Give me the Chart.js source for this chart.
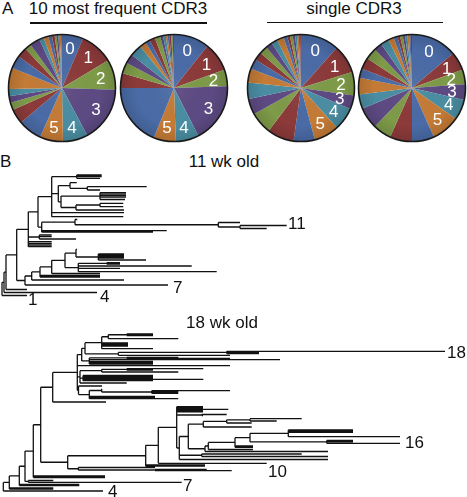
<!DOCTYPE html>
<html>
<head>
<meta charset="utf-8">
<script src="https://cdn.jsdelivr.net/npm/chart.js@4"></script>
<style>
  body { margin: 0; background: #fff; }
  #page { position: relative; width: 467px; height: 497px; overflow: hidden; font-family: "Liberation Sans", Arial, sans-serif; color: #111; }
  #page canvas, #page .t, #page .rule { position: absolute; }
  .t { font-size: 17px; line-height: 17px; white-space: nowrap; }
  .c { text-align: center; }
  .rule { height: 1.5px; background: #111; }
</style>
</head>
<body>
<div id="page">
  <div class="t" style="left:2px;top:0px">A</div>
  <div class="t c" style="left:18px;top:0px;width:200px">10 most frequent CDR3</div>
  <div class="t c" style="left:254px;top:0px;width:200px">single CDR3</div>
  <div class="rule" style="left:30px;top:22px;width:177px"></div>
  <div class="rule" style="left:267px;top:21.5px;width:176px"></div>

  <canvas id="pie1" width="112" height="112" style="left:6px;top:31.5px"></canvas>
  <canvas id="pie2" width="112" height="112" style="left:118px;top:31.5px"></canvas>
  <canvas id="pie3" width="112" height="112" style="left:245px;top:31.5px"></canvas>
  <canvas id="pie4" width="112" height="112" style="left:355.5px;top:31.5px"></canvas>

  <div class="t" style="left:0px;top:152.5px">B</div>
  <div class="t c" style="left:174px;top:153px;width:100px">11 wk old</div>
  <canvas id="tree11" width="467" height="145" style="left:0;top:160px"></canvas>
  <div class="t" style="left:288px;top:215px">11</div>
  <div class="t" style="left:28px;top:291px">1</div>
  <div class="t" style="left:100px;top:287.5px">4</div>
  <div class="t" style="left:173px;top:279px">7</div>

  <div class="t c" style="left:172px;top:314px;width:100px">18 wk old</div>
  <canvas id="tree18" width="467" height="172" style="left:0;top:325px"></canvas>
  <div class="t" style="left:447px;top:344px">18</div>
  <div class="t" style="left:405px;top:434px">16</div>
  <div class="t" style="left:268px;top:462.5px">10</div>
  <div class="t" style="left:183px;top:476.5px">7</div>
  <div class="t" style="left:108px;top:482.5px">4</div>
</div>

<script>
// slice shares (degrees of the circle), clockwise from 12 o'clock
const pie1Values = [23, 36, 33, 60, 27, 25, 26, 16, 8, 7, 8, 23, 14, 11, 7, 11, 5, 5, 4, 3, 2, 2, 1.5, 1.5, 1];
const pie2Values = [38.5, 31.5, 18, 65, 25, 24, 68, 16, 12, 10, 13, 7, 5, 6, 6, 3, 3, 2, 2, 2, 1.5, 1.5];
const pie3Values = [41.6, 31, 25.4, 15, 24.8, 27.2, 23, 29, 24, 17, 18, 15, 11, 9, 8.5, 7.5, 6.6, 7.4, 4, 3, 3, 2.5, 2, 2, 1.5, 1];
const pie4Values = [50, 20, 16, 17, 22, 31, 24, 24, 20, 23.5, 15.5, 18, 10, 12.6, 12.4, 9, 9, 6, 4, 3, 3, 2.5, 2.5, 2, 1.5, 1.5];
const sliceLabels = ['0', '1', '2', '3', '4', '5'];
const palette = ['#4a6ba6', '#8c3a3a', '#7e9b48', '#5d4a83', '#4a8da2', '#c47b36'];

// trees: node = {x: branch point, c: children}, leaf = [position, tip]
const tree11 = {x: 2, c: [
  [295.5, 27],
  {x: 4, c: [
    [292.5, 97],
    {x: 6, c: [
      [289.5, 27],
      {x: 16.7, c: [
        {x: 28.3, c: [
          {x: 38, c: [
            {x: 51.7, c: [
              {x: 76.7, c: [[175, 101.7], [176.5, 101.7], [178.3, 100]]},
              {x: 58.3, c: [
                {x: 70, c: [[182.7, 76.7], {x: 87.3, c: [[186.7, 146.7], [190, 100]]}]},
                {x: 61, c: [
                  {x: 100, c: [[192.7, 126], [194.2, 126], [195.7, 126], [197.2, 126], [199.5, 125]]},
                  {x: 76, c: [{x: 100, c: [[203.3, 123.3], [206.7, 123.3]]}, [210, 124]]}
                ]}
              ]},
              [212.7, 124], [216.7, 123.3]
            ]},
            {x: 41.7, c: [
              {x: 75, c: [[219.5, 77.3], {x: 218.3, c: [[222.5, 240], {x: 240, c: [[225.5, 286.7], [228.5, 266.7]]}]}]},
              [230.7, 166.7], [232, 153]
            ]}
          ]},
          {x: 39.3, c: [[235, 51.7], [236.7, 51.7], [239, 76]]},
          [241.7, 51.7], [243.3, 51.7], [245, 51.7], [246.7, 51.7]
        ]},
        {x: 25, c: [
          {x: 31.7, c: [
            {x: 40, c: [
              {x: 51.7, c: [
                {x: 65, c: [
                  {x: 76, c: [[249.3, 77], {x: 98.3, c: [[254, 124], [255.3, 124], [256.7, 124], [258, 124], [260, 146]]}]},
                  {x: 78.3, c: [{x: 106.7, c: [[262.7, 120], [264, 120]]}, [266, 191.7], [268.3, 120], [271.7, 216.7]]}
                ]},
                [273.5, 100]
              ]},
              [275.5, 100], [277, 100]
            ]},
            [280, 124]
          ]},
          [285, 168]
        ]}
      ]}
    ]}
  ]}
]};

const tree18 = {x: 3.3, c: [
  {x: 9.3, c: [
    {x: 19.3, c: [
      {x: 25, c: [
        {x: 33.3, c: [
          {x: 40.7, c: [
            {x: 52.7, c: [
              {x: 77.3, c: [
                {x: 81.7, c: [
                  {x: 85, c: [
                    {x: 101.7, c: [
                      {x: 108.3, c: [{x: 126.7, c: [[334, 153], [335.5, 153]]}, [338.7, 178.3]]},
                      [343, 128], [344.5, 128], [346, 128], [348.7, 153]
                    ]},
                    {x: 118.3, c: [{x: 226.7, c: [[351.3, 445], [352.5, 259], [353.5, 259]]}, [355.3, 230]]}
                  ]},
                  {x: 89.3, c: [{x: 126.7, c: [[357.3, 178.3], [358.5, 230]]}, [359.7, 280], [361.3, 153], [362.7, 153], [364, 153]]}
                ]},
                [365.7, 230],
                {x: 80, c: [
                  {x: 101.7, c: [{x: 126.7, c: [[368.7, 203.3], [370, 153]]}, [372, 178.3]]},
                  {x: 83, c: [[375.5, 153], [376.8, 153], [378, 153], [379.3, 203.3], [380.7, 153]]},
                  [383, 126.7]
                ]},
                {x: 78.5, c: [
                  [386, 102],
                  {x: 89.3, c: [
                    {x: 101.7, c: [[389, 102], {x: 151.7, c: [[390.7, 230], [392, 178.3], [393.3, 178.3]]}]},
                    [396.3, 155], [397.5, 155], [398.7, 178.3]
                  ]}
                ]}
              ]},
              [402, 106]
            ]},
            {x: 67.7, c: [
              {x: 145.7, c: [
                {x: 158.3, c: [
                  {x: 176.7, c: [
                    [406.7, 203], [408, 203], [409.3, 228.3], [410.5, 203], [411.8, 203],
                    {x: 201.7, c: [[414.5, 226.7], [415.5, 203]]},
                    {x: 179.3, c: [
                      {x: 188.3, c: [
                        {x: 203.3, c: [{x: 226.7, c: [{x: 250, c: [[418.7, 301.7], [421, 276.7]]}, [423, 251.7]]}, [427, 251.7]]},
                        {x: 205, c: [
                          {x: 208.3, c: [
                            {x: 235, c: [
                              {x: 250, c: [
                                {x: 288.3, c: [[430, 353], [431.2, 353], [432.4, 353], [436.7, 400]]},
                                {x: 326.7, c: [[440.5, 353], [441.8, 353], [443.3, 400]]}
                              ]},
                              [446, 253], [447.3, 253]
                            ]},
                            [449.5, 253]
                          ]},
                          [451.5, 328]
                        ]}
                      ]},
                      {x: 201.7, c: [[454, 301.7], [456.5, 328]]},
                      [459.5, 328]
                    ]}
                  ]},
                  [463.3, 266.7]
                ]},
                [465, 205], [466.2, 205]
              ]},
              {x: 78.3, c: [[467.5, 155], {x: 155, c: [[469.3, 206.7], [470.7, 231.7]]}]}
            ]}
          ]},
          [476, 105], [477.5, 105]
        ]},
        {x: 28.3, c: [[480.5, 53.3], [482.3, 181.7]]}
      ]},
      [484.5, 79.3], [485.5, 79.3]
    ]},
    [488, 53.3], [489, 53.3]
  ]},
  [491, 103]
]};

const outline = {
  id: 'outline',
  afterDatasetsDraw(chart) {
    const arc = chart.getDatasetMeta(0).data[0];
    const ctx = chart.ctx;
    const r = arc.outerRadius;
    // slight Excel-like shading toward the rim
    const g = ctx.createRadialGradient(arc.x, arc.y, 0, arc.x, arc.y, r);
    g.addColorStop(0, 'rgba(255,255,255,0.06)');
    g.addColorStop(0.7, 'rgba(0,0,0,0)');
    g.addColorStop(1, 'rgba(0,0,0,0.12)');
    ctx.save();
    ctx.beginPath();
    ctx.arc(arc.x, arc.y, r, 0, Math.PI * 2);
    ctx.fillStyle = g;
    ctx.fill();
    ctx.lineWidth = 1.6;
    ctx.strokeStyle = '#1a1a1a';
    ctx.stroke();
    // white numbers on the first six slices
    ctx.fillStyle = '#fff';
    ctx.font = '17px "Liberation Sans", Arial, sans-serif';
    ctx.textAlign = 'center';
    ctx.textBaseline = 'middle';
    chart.getDatasetMeta(0).data.forEach((a, i) => {
      if (i >= sliceLabels.length) return;
      const mid = (a.startAngle + a.endAngle) / 2;
      const rr = r * 0.75;
      ctx.fillText(sliceLabels[i], a.x + Math.cos(mid) * rr, a.y + Math.sin(mid) * rr + 1);
    });
    ctx.restore();
  }
};

function makePie(id, values) {
  new Chart(document.getElementById(id), {
    type: 'pie',
    data: {
      labels: values.map((v, i) => 'clone ' + i),
      datasets: [{
        data: values,
        backgroundColor: values.map((v, i) => palette[i % palette.length]),
        borderWidth: 0
      }]
    },
    options: {
      responsive: false,
      animation: false,
      layout: { padding: 2.5 },
      plugins: { legend: { display: false }, tooltip: { enabled: false } }
    },
    plugins: [outline]
  });
}

makePie('pie1', pie1Values);
makePie('pie2', pie2Values);
makePie('pie3', pie3Values);
makePie('pie4', pie4Values);

// turn the nested tree into branch segments
function walk(node, segs) {
  if (Array.isArray(node)) return { y: node[0], x: node[1] };
  const kids = node.c.map(k => walk(k, segs));
  const ys = kids.map(k => k.y);
  const top = Math.min(...ys), bottom = Math.max(...ys);
  segs.push([node.x, top, node.x, bottom]);
  kids.forEach(k => segs.push([node.x, k.y, k.x, k.y]));
  return { x: node.x, y: (top + bottom) / 2 };
}

function makeTree(id, tree, yMin, yMax) {
  const segs = [];
  walk(tree, segs);
  const pts = [];
  segs.forEach(s => {
    pts.push({ x: s[0], y: s[1] }, { x: s[2], y: s[3] }, { x: s[2], y: null });
  });
  new Chart(document.getElementById(id), {
    type: 'scatter',
    data: {
      datasets: [{
        data: pts,
        showLine: true,
        spanGaps: false,
        borderColor: '#111',
        borderWidth: 1.3,
        pointRadius: 0,
        tension: 0
      }]
    },
    options: {
      responsive: false,
      animation: false,
      layout: { padding: 0 },
      scales: {
        x: { display: false, min: 0, max: 467 },
        y: { display: false, min: yMin, max: yMax, reverse: true }
      },
      plugins: { legend: { display: false }, tooltip: { enabled: false } }
    }
  });
}

makeTree('tree11', tree11, 160, 305);
makeTree('tree18', tree18, 325, 497);
</script>
</body>
</html>
